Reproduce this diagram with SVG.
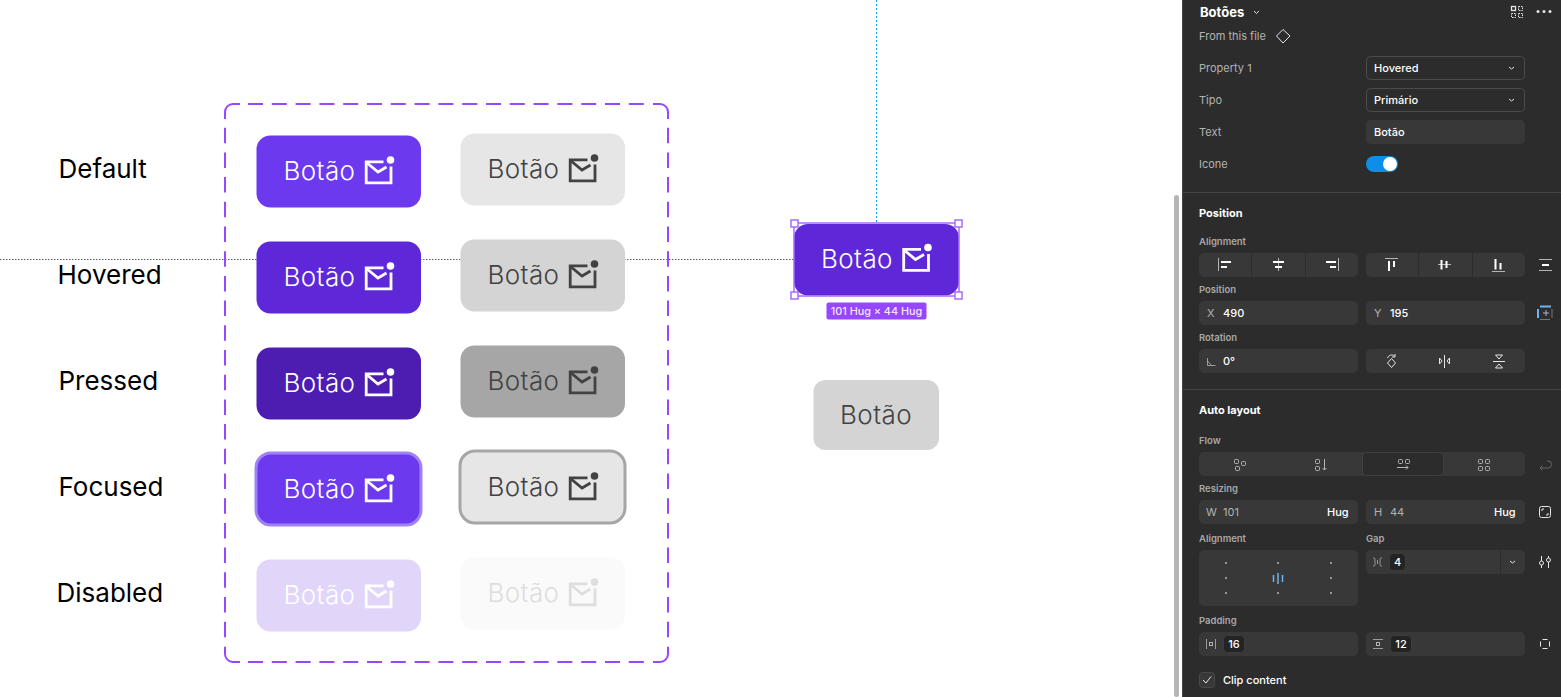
<svg xmlns="http://www.w3.org/2000/svg" width="1561" height="697" viewBox="0 0 1561 697">
<style>
text{font-family:Inter,"Noto Sans","Liberation Sans",sans-serif}
.lbl{font-size:26px;fill:#000}
.bt{font-size:26px;font-weight:300;letter-spacing:.4px}
.pl{font-size:11px;fill:#b3b3b3}
.pv{font-size:11px;fill:#fff;font-weight:500}
.ph{font-size:11px;fill:#fff;font-weight:700}
.ps{font-size:9.5px;fill:#a8a8a8;font-weight:600}
.f{fill:#383838}
.ln{fill:none;stroke:#e6e6e6;stroke-width:1}
.tg{fill:none;stroke:#b5b5b5;stroke-width:1}
.bar{fill:none;stroke:#fff;stroke-width:2}
.sep{stroke:#444;stroke-width:1}
.dv{stroke:#2c2c2c;stroke-width:1}
.chip{fill:#232323;stroke:#3c3c3c}
.hd{fill:#fff;stroke:#a76bfb;stroke-width:1.500}
.fr{fill:none;stroke:#9747ff;stroke-width:2}
</style>
<defs>
<g id="mail">
<path d="M127 26.300H109.700V47.300H134.500V31" fill="none" stroke="currentColor" stroke-width="2.800"/>
<path d="M110 27L121.500 36.500L130 31.500" fill="none" stroke="currentColor" stroke-width="2.800"/>
<circle cx="134" cy="24.500" r="3.800" fill="currentColor"/>
</g>
</defs>
<rect width="1561" height="697" fill="#fff"/>
<g id="guides">
<path d="M0 259.500H794" stroke="#5a5a7a" stroke-width="1" stroke-dasharray="1.500 1.500" fill="none"/>
<path d="M876.500 0V223" stroke="#1c9be8" stroke-width="1" stroke-dasharray="2 2" fill="none"/>
</g>
<g id="labels">
<text class="lbl" x="58.500" y="178">Default</text>
<text class="lbl" x="57.500" y="284">Hovered</text>
<text class="lbl" x="58.500" y="390">Pressed</text>
<text class="lbl" x="58.500" y="496">Focused</text>
<text class="lbl" x="56.500" y="602">Disabled</text>
</g>
<g id="set-frame">
<path class="fr" d="M240 104H233A8 8 0 0 0 225 112V119M653 104H660A8 8 0 0 1 668 112V119M225 646.700V654A8 8 0 0 0 233 662H240M668 646.700V654A8 8 0 0 1 660 662H653"/>
<path class="fr" stroke-dasharray="15 8.800" d="M248 104H645M248 662H645"/>
<path class="fr" stroke-dasharray="15.500 9.200" d="M225 127.700V637.500M668 127.700V637.500"/>
</g>
<g id="btn-primary-default" transform="translate(256.500 135.500)" color="#fff"><rect width="164.500" height="72" rx="14" fill="#6d39ef"/><text class="bt" x="27" y="44.500" fill="#fff">Botão</text><use href="#mail"/></g>
<g id="btn-primary-hovered" transform="translate(256.500 241.500)" color="#fff"><rect width="164.500" height="72" rx="14" fill="#5e28d8"/><text class="bt" x="27" y="44.500" fill="#fff">Botão</text><use href="#mail"/></g>
<g id="btn-primary-pressed" transform="translate(256.500 347.500)" color="#fff"><rect width="164.500" height="72" rx="14" fill="#4c1db0"/><text class="bt" x="27" y="44.500" fill="#fff">Botão</text><use href="#mail"/></g>
<g id="btn-primary-focused" transform="translate(256.500 453.500)" color="#fff"><rect x="-.500" y="-.500" width="165" height="72" rx="15" fill="#6d39ef" stroke="#9f82f5" stroke-width="3"/><text class="bt" x="27" y="44.500" fill="#fff">Botão</text><use href="#mail"/></g>
<g id="btn-primary-disabled" transform="translate(256.500 559.500)" color="#fff"><rect width="164.500" height="72" rx="14" fill="#e1d5fa"/><text class="bt" x="27" y="44.500" fill="#fff">Botão</text><use href="#mail"/></g>
<g id="btn-secondary-default" transform="translate(460.500 133.500)" color="#424242"><rect width="164.500" height="72" rx="14" fill="#e6e6e6"/><text class="bt" x="27" y="44.500" fill="#424242">Botão</text><use href="#mail"/></g>
<g id="btn-secondary-hovered" transform="translate(460.500 239.500)" color="#424242"><rect width="164.500" height="72" rx="14" fill="#d4d4d4"/><text class="bt" x="27" y="44.500" fill="#424242">Botão</text><use href="#mail"/></g>
<g id="btn-secondary-pressed" transform="translate(460.500 345.500)" color="#424242"><rect width="164.500" height="72" rx="14" fill="#a6a6a6"/><text class="bt" x="27" y="44.500" fill="#424242">Botão</text><use href="#mail"/></g>
<g id="btn-secondary-focused" transform="translate(460.500 451.500)" color="#424242"><rect x="-.500" y="-.500" width="165" height="72" rx="15" fill="#e6e6e6" stroke="#a6a6a6" stroke-width="3"/><text class="bt" x="27" y="44.500" fill="#424242">Botão</text><use href="#mail"/></g>
<g id="btn-secondary-disabled" transform="translate(460.500 557.500)" color="#dedede"><rect width="164.500" height="72" rx="14" fill="#fafafa"/><text class="bt" x="27" y="44.500" fill="#dedede">Botão</text><use href="#mail"/></g>
<g id="selected-button">
<g transform="translate(794 224)" color="#fff"><rect width="165" height="71.500" rx="14" fill="#5e28d8"/><text class="bt" x="27" y="44" fill="#fff">Botão</text><g transform="translate(0 -1)"><use href="#mail"/></g></g>
<rect x="794" y="223" width="165" height="73" fill="none" stroke="#a76bfb" stroke-width="1.500"/>
<rect class="hd" x="791" y="220" width="7" height="7"/><rect class="hd" x="955" y="220" width="7" height="7"/><rect class="hd" x="791" y="292" width="7" height="7"/><rect class="hd" x="955" y="292" width="7" height="7"/>
<rect x="826.500" y="302.500" width="100" height="17" rx="2" fill="#9747ff"/>
<text x="876.500" y="315" font-size="10.800" font-weight="500" fill="#fff" fill-opacity=".9" text-anchor="middle">101 Hug × 44 Hug</text>
</g>
<g id="btn-no-icon"><rect x="813.500" y="380" width="125.500" height="70" rx="12" fill="#d4d4d4"/><text class="bt" x="876" y="424" fill="#424242" text-anchor="middle">Botão</text></g>
<rect id="scrollbar" x="1174" y="195" width="5" height="502" rx="2.500" fill="#b5b5b5"/>
<g id="panel">
<rect x="1182" y="0" width="379" height="697" fill="#2c2c2c"/>
<path d="M1182.500 0V697" class="sep"/>
<text class="ph" x="1200" y="17" style="font-size:13px">Botões</text>
<path d="M1254 11l2.500 2.500 2.500-2.500" class="ln"/>
<rect x="1511.500" y="6.500" width="4" height="4" class="ln" style="stroke-width:1.300"/>
<path d="M1518.500 6.500h4v4h-4zM1511.500 13.500h4v4h-4zM1518.500 13.500h4v4h-4z" class="ln" stroke-dasharray="1.500 1"/>
<circle cx="1538" cy="11.500" r="1.500" fill="#e6e6e6"/><circle cx="1544" cy="11.500" r="1.500" fill="#e6e6e6"/><circle cx="1550" cy="11.500" r="1.500" fill="#e6e6e6"/>
<text class="pl" x="1199" y="40">From this file</text>
<path d="M1283 29.500l7 6.500-7 7-6.500-7z" class="ln"/>
<text class="pl" x="1199" y="72">Property 1</text>
<rect x="1366.500" y="56.500" width="158" height="23" rx="4" fill="none" stroke="#4a4a4a"/>
<text class="pv" x="1374" y="72">Hovered</text><path d="M1509 67l2.500 2 2.500-2" class="ln"/>
<text class="pl" x="1199" y="104">Tipo</text>
<rect x="1366.500" y="88.500" width="158" height="23" rx="4" fill="none" stroke="#4a4a4a"/>
<text class="pv" x="1374" y="104">Primário</text><path d="M1509 99l2.500 2 2.500-2" class="ln"/>
<text class="pl" x="1199" y="136">Text</text>
<rect class="f" x="1366" y="120" width="159" height="24" rx="5"/>
<text class="pv" x="1374" y="136">Botão</text>
<text class="pl" x="1199" y="168">Icone</text>
<rect x="1366" y="156" width="32" height="16" rx="8" fill="#0d8ee9"/><circle cx="1390" cy="164" r="7" fill="#fff"/>
<path d="M1182 192.500H1561M1182 389.500H1561" class="sep"/>
<text class="ph" x="1199" y="217">Position</text>
<text class="ps" x="1199" y="245">Alignment</text>
<rect class="f" x="1199" y="253" width="159" height="24" rx="5"/>
<rect class="f" x="1366" y="253" width="159" height="24" rx="5"/>
<path d="M1251.500 253v24M1305.500 253v24M1418.500 253v24M1472.500 253v24M1418.500 349v24M1472.500 349v24" class="dv"/>
<path d="M1218.500 258v13M1278.500 258v13M1338.500 258v13M1385 258.500h13M1438 264.500h13M1492 271.500h13M1539 259.500h13M1539 270.500h13" class="tg"/>
<path d="M1221 262h10M1221 267h6M1273 262h11M1275 267h7M1326 262h10M1330 267h6M1389 261v10M1394 261v6M1441.500 260v9.500M1446.500 261v7M1495.500 259v10.500M1500.500 263v6.500M1542 265h7" class="bar"/>
<text class="ps" x="1199" y="293">Position</text>
<rect class="f" x="1199" y="301" width="159" height="24" rx="5"/>
<rect class="f" x="1366" y="301" width="159" height="24" rx="5"/>
<text class="pl" x="1207" y="317">X</text><text class="pv" x="1223" y="317">490</text>
<text class="pl" x="1374" y="317">Y</text><text class="pv" x="1390" y="317">195</text>
<path d="M1540 306.500h11M1538 309v9" stroke="#6cb4f0" stroke-width="2" fill="none"/><path d="M1543 313h6M1546 310v6" class="tg"/><path d="M1540 319.500h10M1552 309v9" class="tg" style="stroke:#777"/>
<text class="ps" x="1199" y="341">Rotation</text>
<rect class="f" x="1199" y="349" width="159" height="24" rx="5"/>
<rect class="f" x="1366" y="349" width="159" height="24" rx="5"/>
<path d="M1207.500 358v7.500h8M1207.500 361l4 4.500" class="tg" style="stroke-width:.8"/>
<text class="pv" x="1223" y="365">0°</text>
<path d="M1391.500 358.500l4 4.500-4 4.500-4-4.500zM1387.500 358c1-3 5-4 7-2M1395 354v3h-3" class="ln"/>
<path d="M1444.500 355v13M1439.500 358l2.500 3-2.500 3zM1449.500 358l-2.500 3 2.500 3z" class="ln"/>
<path d="M1493 361.500h12M1495.500 355h7l-3.500 4zM1495.500 368h7l-3.500-4z" class="ln"/>
<text class="ph" x="1199" y="414">Auto layout</text>
<text class="ps" x="1199" y="444">Flow</text>
<rect class="f" x="1199" y="452" width="326" height="24" rx="5"/>
<rect x="1362.500" y="452.500" width="81" height="23" rx="4" fill="#2c2c2c" stroke="#3f3f3f"/>
<g class="tg"><rect x="1234.500" y="459.500" width="4" height="4" rx="1"/><rect x="1241.500" y="461.500" width="4" height="4" rx="1"/><rect x="1235.500" y="466.500" width="4" height="4" rx="1"/><rect x="1315.500" y="459.500" width="4" height="4" rx="1"/><rect x="1315.500" y="466.500" width="4" height="4" rx="1"/><path d="M1324.500 459v11M1322.500 468l2 2 2-2"/><rect x="1398.500" y="459.500" width="4" height="4" rx="1"/><rect x="1405.500" y="459.500" width="4" height="4" rx="1"/><path d="M1397 467.500h11M1406 465.500l2 2-2 2"/><rect x="1478.500" y="459.500" width="4" height="4" rx="1"/><rect x="1485.500" y="459.500" width="4" height="4" rx="1"/><rect x="1478.500" y="466.500" width="4" height="4" rx="1"/><rect x="1485.500" y="466.500" width="4" height="4" rx="1"/></g>
<path d="M1540 468h8a2.500 2.500 0 0 0 0-7h-1M1540 468l2.500-2.500M1540 468l2.500 2.500" fill="none" stroke="#666"/>
<text class="ps" x="1199" y="492">Resizing</text>
<rect class="f" x="1199" y="500" width="159" height="24" rx="5"/>
<rect class="f" x="1366" y="500" width="159" height="24" rx="5"/>
<text class="pl" x="1206" y="516">W</text><text class="pl" x="1223" y="516">101</text><text class="pv" x="1327" y="516">Hug</text>
<text class="pl" x="1374" y="516">H</text><text class="pl" x="1390" y="516">44</text><text class="pv" x="1494" y="516">Hug</text>
<rect x="1539.500" y="506.500" width="11" height="11" rx="2" class="ln"/><path d="M1542 511v-2h2M1548 513v2h-2" class="ln"/>
<text class="ps" x="1199" y="542">Alignment</text>
<text class="ps" x="1366" y="542">Gap</text>
<rect class="f" x="1199" y="550" width="159" height="56" rx="5"/>
<g fill="#9a9a9a"><rect x="1225" y="562" width="2" height="2"/><rect x="1277" y="562" width="2" height="2"/><rect x="1330" y="562" width="2" height="2"/><rect x="1225" y="577" width="2" height="2"/><rect x="1330" y="577" width="2" height="2"/><rect x="1225" y="592" width="2" height="2"/><rect x="1277" y="592" width="2" height="2"/><rect x="1330" y="592" width="2" height="2"/></g>
<path d="M1273.500 575v7M1278 573v11M1282.500 575v7" stroke="#6cb4f0" stroke-width="1.500"/>
<rect class="f" x="1366" y="550" width="159" height="24" rx="5"/>
<path d="M1500.500 550v24" class="dv"/>
<path d="M1373 558c2 0 2 0 2 4s0 4-2 4M1382 558c-2 0-2 0-2 4s0 4 2 4M1377.500 560v4" class="tg" style="stroke-width:.8"/>
<rect class="chip" x="1389.500" y="553.500" width="16" height="17" rx="4"/>
<text class="pv" x="1397.500" y="566" text-anchor="middle">4</text>
<path d="M1510 561l2.500 2 2.500-2" class="ln"/>
<path d="M1541.500 556v12M1548.500 556v12" class="ln"/><circle cx="1541.500" cy="563" r="2" fill="#2c2c2c" stroke="#e6e6e6"/><circle cx="1548.500" cy="560" r="2" fill="#2c2c2c" stroke="#e6e6e6"/>
<text class="ps" x="1199" y="624">Padding</text>
<rect class="f" x="1199" y="632" width="159" height="24" rx="5"/>
<rect class="f" x="1366" y="632" width="159" height="24" rx="5"/>
<path d="M1206.500 639v10M1215.500 639v10" class="tg" style="stroke-width:.8"/><rect x="1209.500" y="642.500" width="3" height="3" class="tg"/>
<rect class="chip" x="1223.500" y="635.500" width="21" height="17" rx="4"/>
<text class="pv" x="1234" y="648" text-anchor="middle">16</text>
<path d="M1373 639.500h10M1373 648.500h10" class="tg" style="stroke-width:.8"/><rect x="1376.500" y="642.500" width="3" height="3" class="tg"/>
<rect class="chip" x="1390.500" y="635.500" width="21" height="17" rx="4"/>
<text class="pv" x="1401" y="648" text-anchor="middle">12</text>
<path d="M1542.500 639.500h5M1542.500 648.500h5M1540.500 641.500v5M1549.500 641.500v5" class="ln"/>
<rect x="1199.500" y="672.500" width="15" height="15" rx="3" fill="#383838" stroke="#484848"/>
<path d="M1203 680l3 3 5-6.500" class="ln"/>
<text class="pv" x="1223" y="684">Clip content</text>
</g>
</svg>
